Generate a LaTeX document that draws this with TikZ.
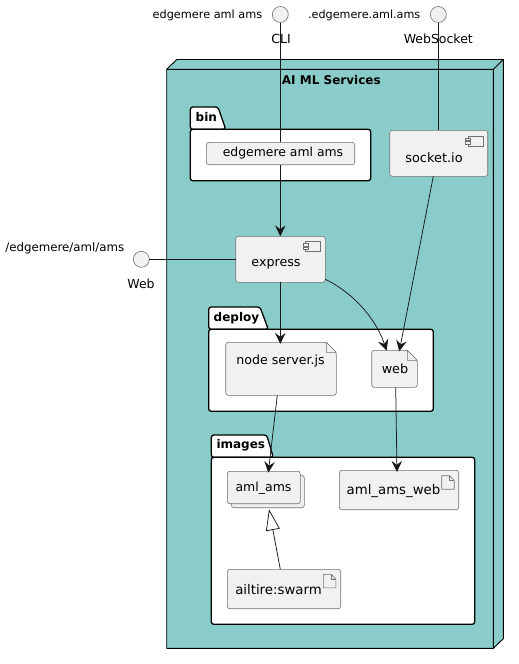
\documentclass[tikz,border=0pt]{standalone}
\usepackage{fontspec}
\setmainfont{DejaVu Sans}
\usetikzlibrary{arrows.meta,calc}
\definecolor{teal}{HTML}{89CCCA}
\definecolor{nodefill}{HTML}{F1F1F1}
\definecolor{ink}{HTML}{181818}
\definecolor{edge}{HTML}{707070}
\tikzset{
  x=1pt,y=-1pt,
  lbl/.style={inner sep=0pt,font=\fontsize{#1}{14}\selectfont,text=black},
  boldlbl/.style={inner sep=0pt,font=\fontsize{12}{14}\selectfont\bfseries,text=black},
  frame/.style={inner sep=0pt,outer sep=0pt},
  box/.style={frame,draw=edge,line width=.6pt,fill=nodefill,rounded corners=2.5pt},
  iface/.style={circle,frame,draw=edge,line width=.6pt,fill=nodefill,minimum size=16pt},
  conn/.style={draw=ink,line width=.75pt},
  arr/.style={conn,-{Stealth[length=11pt,width=10.5pt,inset=4pt]}},
  inherit/.style={conn,-{Triangle[open,length=21pt,width=14pt,fill=white]}},
  pkgline/.style={draw=black,line width=1.3pt,fill=white,line join=round},
  notedraw/.style={draw=edge,line width=.6pt,fill=nodefill,line join=round},
  iconline/.style={draw=edge,line width=.6pt,fill=nodefill}
}
% sized frame node from corners: name, x1,y1,x2,y2
\newcommand{\framenode}[6][frame]{%
  \node[#1,minimum width={(#5)*1pt-(#3)*1pt},minimum height={(#6)*1pt-(#4)*1pt}] (#2) at ({((#3)+(#5))/2},{((#4)+(#6))/2}) {};}
% note outline with folded corner around a frame node
\newcommand{\notefold}[2]{%
  \draw[notedraw,rounded corners=2.5pt] (#1.north west) -- ([xshift=-#2pt]#1.north east) -- ([yshift=-#2pt]#1.north east) -- (#1.south east) -- (#1.south west) -- cycle;
  \draw[notedraw,fill=nodefill] ([xshift=-#2pt]#1.north east) -- ([xshift=-#2pt,yshift=-#2pt]#1.north east) -- ([yshift=-#2pt]#1.north east) -- cycle;}
% package: name, x1,ytab,x2,ybody,ybottom,tab top right,tab bottom right
\newcommand{\package}[8]{%
  \draw[pkgline,rounded corners=2.5pt] (#2,#5) -- (#2,#3) -- (#7,#3) -- (#8,#5) -- cycle;
  \draw[pkgline,rounded corners=2.5pt] (#2,#5) -- (#4,#5) -- (#4,#6) -- (#2,#6) -- cycle;
  \coordinate (#1) at (#2,#3);}
% component icon at right top of box
\newcommand{\compicon}[2]{%
  \draw[iconline] (#1,#2) rectangle ++(15,10);
  \draw[iconline] (#1-2.5,#2+2) rectangle ++(5,2.5);
  \draw[iconline] (#1-2.5,#2+5.5) rectangle ++(5,2.5);}
% document icon
\newcommand{\docicon}[2]{%
  \draw[iconline,fill=nodefill,line join=round] (#1,#2) -- (#1+8,#2) -- (#1+12.5,#2+5) -- (#1+12.5,#2+13.5) -- (#1,#2+13.5) -- cycle;
  \draw[iconline,fill=none,line join=round] (#1+8,#2) -- (#1+8,#2+5) -- (#1+12.5,#2+5);}
\begin{document}
\begin{tikzpicture}
\useasboundingbox (0,0) rectangle (519,664);
% outer node
\draw[draw=black,line width=.9pt,fill=teal,line join=round] (166.7,69.3) -- (176.7,59.5) -- (503.4,59.5) -- (503.4,638.5) -- (493.4,648.4) -- (166.7,648.4) -- cycle;
\draw[draw=black,line width=.9pt] (166.7,69.3) -- (493.4,69.3) -- (493.4,648.4) (493.4,69.3) -- (503.4,59.5);
\node[boldlbl] (title) at (331.3,80) {AI ML Services};
% packages
\package{binpkg}{190.3}{107}{370.7}{129.3}{180.7}{218}{225.7}
\node[boldlbl,anchor=west] (bintitle) at (195.5,117) {bin};
\package{deploypkg}{208.7}{307}{433.3}{329.3}{411.3}{260}{268.3}
\node[boldlbl,anchor=west] (deploytitle) at (213.5,318) {deploy};
\package{imagespkg}{211.3}{435}{474.7}{457.3}{624.3}{266.7}{273.3}
\node[boldlbl,anchor=west] (imagestitle) at (216.3,445.5) {images};
% interfaces
\node[iface] (cli) at (280.3,14.5) {};
\node[iface] (ws) at (438.3,14.5) {};
\node[iface] (webif) at (141.3,259.3) {};
\node[lbl=11.3,anchor=east] (clilabel) at (262.5,15) {edgemere aml ams};
\node[lbl=11.2,anchor=east] (wslabel) at (420.5,15) {.edgemere.aml.ams};
\node[lbl=11.8,anchor=east] (weblabel) at (124.5,248.7) {/edgemere/aml/ams};
\node[lbl=12.5] (cliname) at (281,39) {CLI};
\node[lbl=12.5] (wsname) at (438.3,39) {WebSocket};
\node[lbl=12.5] (webname) at (141,284) {Web};
% connectors below boxes
\framenode[box]{cmd}{206.3}{142.3}{354.7}{164.7}
\framenode[box]{socket}{389.7}{130.3}{487.7}{176.3}
\framenode[box]{express}{235.7}{236.3}{325.3}{282.3}
\framenode{server}{225.7}{342.3}{336.3}{395.3}
\framenode{web}{371.7}{350.3}{417.3}{387.3}
\notefold{server}{10}
\notefold{web}{10}
\framenode[box]{amlback}{231.3}{475.3}{304.3}{507.7}
\framenode[box]{aml}{227.3}{471.3}{300.3}{503.7}
\framenode[box]{amlweb}{339.3}{470.3}{458.7}{509.7}
\framenode[box]{swarm}{227.3}{569.3}{340.7}{608.7}
\compicon{468}{136}
\compicon{305.7}{241.3}
\docicon{441.7}{475.7}
\docicon{323.3}{574.3}
\node[lbl=12.4] (cmdtext) at (283,153) {edgemere aml ams};
\node[lbl=12.9] (sockettext) at (434,158) {socket.io};
\node[lbl=12.7] (expresstext) at (276,264) {express};
\node[lbl=12.6] (servertext) at (280.5,361) {node server.js};
\node[lbl=12.8] (webtext) at (395,369) {web};
\node[lbl=12.5] (amltext) at (263.5,488) {aml\_ams};
\node[lbl=13.3] (amlwebtext) at (393.5,491) {aml\_ams\_web};
\node[lbl=13.3] (swarmtext) at (278.5,590) {ailtire:swarm};
% connectors
\draw[conn] (cli.south) -- ([xshift=-0.2pt]cmd.north);
\draw[arr] ([xshift=-0.2pt]cmd.south) -- ([xshift=-0.2pt]express.north);
\draw[conn] (ws.south) -- ([xshift=-0.4pt]socket.north);
\draw[arr] ([xshift=-5.4pt]socket.south) -- ([xshift=4.8pt,yshift=-1pt]web.north);
\draw[conn] (webif.east) -- (express.west);
\draw[arr] ([xshift=-0.2pt]express.south) -- ([xshift=-0.7pt,yshift=-1.6pt]server.north);
\draw[arr] ([yshift=3pt]express.south east) .. controls +(25,12) and +(-12,-35) .. ([xshift=-7.8pt,yshift=-.3pt]web.north);
\draw[arr] ([xshift=-3.7pt]server.south) -- ([xshift=4.5pt,yshift=-1.3pt]aml.north);
\draw[arr] ([xshift=1.2pt]web.south) -- ([xshift=-2pt,yshift=-1.6pt]amlweb.north);
\draw[inherit] ([xshift=-3.7pt]swarm.north) -- ([xshift=5.2pt,yshift=-5.6pt]aml.south);
\end{tikzpicture}
\end{document}
